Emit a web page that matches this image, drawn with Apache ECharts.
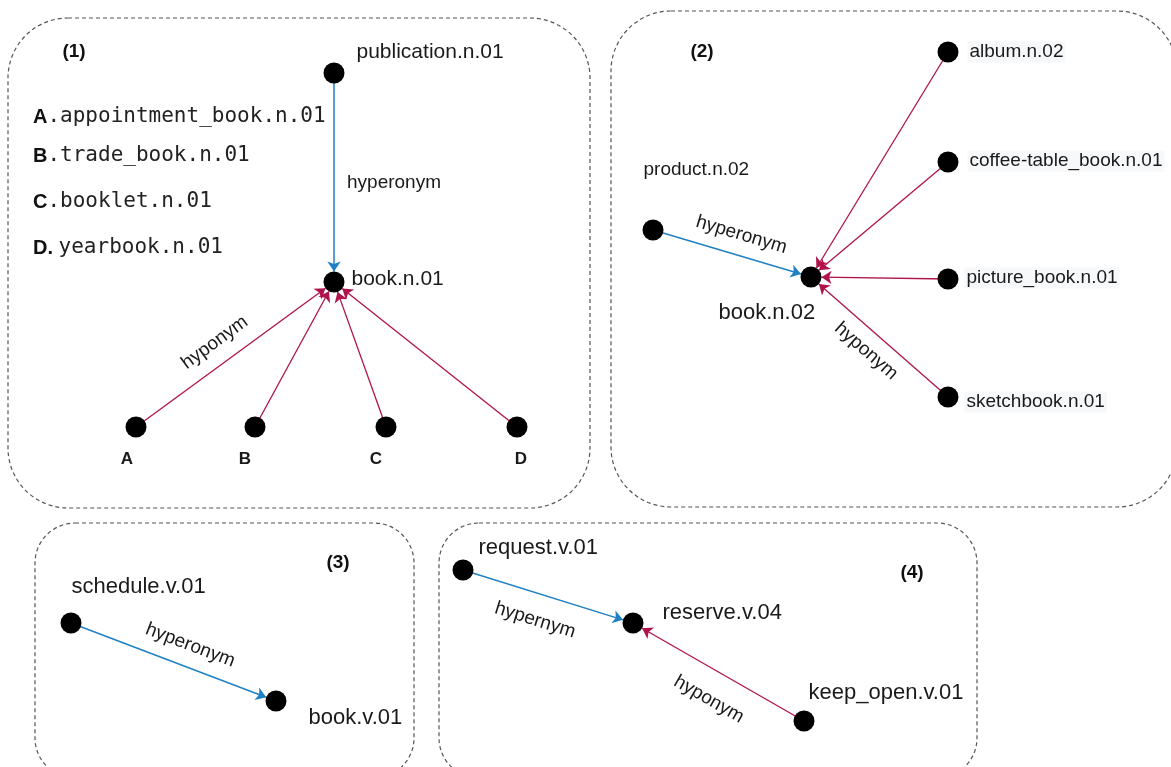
<!DOCTYPE html>
<html>
<head>
<meta charset="utf-8">
<title>book senses in WordNet</title>
<script src="https://cdn.jsdelivr.net/npm/echarts@6/dist/echarts.min.js"></script>
<style>
html, body { margin: 0; padding: 0; background: #fff; }
#chart { width: 1171px; height: 767px; }
</style>
</head>
<body>
<div id="chart"></div>
<script>
// synsets and where they sit in the picture (x right, y down)
const synsets = [
  'publication.n.01', 'book.n.01', 'A', 'B', 'C', 'D',
  'album.n.02', 'coffee-table_book.n.01', 'product.n.02', 'book.n.02', 'picture_book.n.01', 'sketchbook.n.01',
  'schedule.v.01', 'book.v.01',
  'request.v.01', 'reserve.v.04', 'keep_open.v.01'
]
const synsetX = [334, 334, 136, 255, 386, 517, 948, 948, 653, 811, 948, 948, 71, 276, 463, 633, 804]
const synsetY = [73, 282, 427, 427, 427, 427, 52, 162, 230, 277, 279, 397, 623, 701, 570, 623, 721]

// relations: source -> target
const relSource = ['publication.n.01', 'A', 'B', 'C', 'D',
  'product.n.02', 'album.n.02', 'coffee-table_book.n.01', 'picture_book.n.01', 'sketchbook.n.01',
  'schedule.v.01', 'request.v.01', 'keep_open.v.01']
const relTarget = ['book.n.01', 'book.n.01', 'book.n.01', 'book.n.01', 'book.n.01',
  'book.n.02', 'book.n.02', 'book.n.02', 'book.n.02', 'book.n.02',
  'book.v.01', 'reserve.v.04', 'reserve.v.04']
const relKind = ['hyper', 'hypo', 'hypo', 'hypo', 'hypo',
  'hyper', 'hypo', 'hypo', 'hypo', 'hypo',
  'hyper', 'hyper', 'hypo']
const relText = ['', 'hyponym', '', '', '',
  'hyperonym', '', '', '', 'hyponym',
  'hyperonym', 'hypernym', 'hyponym']

const panelTitles = ['(1)', '(2)', '(3)', '(4)']
const legendKeys = ['A', 'B', 'C', 'D. ']
const legendNames = ['.appointment_book.n.01', '.trade_book.n.01', '.booklet.n.01', 'yearbook.n.01']

// ---- styling ----
const FONT = 'Liberation Sans'
const BLUE = '#1f80c4'
const RED = '#b0124b'

const smallNames = ['album.n.02', 'coffee-table_book.n.01', 'product.n.02', 'picture_book.n.01', 'sketchbook.n.01']
const midNames = ['publication.n.01', 'book.n.01']
const letterNames = ['A', 'B', 'C', 'D']
const labelOffset = {
  'publication.n.01': [7, -21],
  'book.n.01': [2, -3],
  'A': [-9, 8], 'B': [-10, 8], 'C': [-10, 8], 'D': [4, 8],
  'album.n.02': [4, 0],
  'coffee-table_book.n.01': [4, -1],
  'product.n.02': [-27, -60],
  'book.n.02': [-108, 36],
  'picture_book.n.01': [1, -1],
  'sketchbook.n.01': [1, 5],
  'schedule.v.01': [-15, -36],
  'book.v.01': [17, 17],
  'request.v.01': [0, -22],
  'reserve.v.04': [14, -10],
  'keep_open.v.01': [-11, -28]
}
// edge label placement: [position, gap from line, padding to slide along the line]
const edgeLabelPlace = {
  1: ['insideMiddleTop', 12, [0, 8, 0, 0]],
  5: ['insideMiddleTop', 11, [0, 0, 0, 18]],
  9: ['insideMiddleBottom', 10, [0, 12, 0, 0]],
  10: ['insideMiddleTop', 12, [0, 0, 0, 30]],
  11: ['insideMiddleBottom', 17, 0],
  12: ['insideMiddleBottom', 19, 0]
}

const nodes = synsets.map((name, i) => {
  const isLetter = letterNames.includes(name)
  const isSmall = smallNames.includes(name)
  const isMid = midNames.includes(name)
  return {
    name: name,
    value: [synsetX[i], synsetY[i]],
    label: {
      show: true,
      position: isLetter ? 'bottom' : 'right',
      offset: labelOffset[name],
      fontFamily: FONT,
      fontSize: isLetter ? 17 : (isSmall ? 19 : (isMid ? 21 : 22)),
      fontWeight: isLetter ? 'bold' : 'normal',
      color: '#1a1a1a',
      backgroundColor: isSmall && name !== 'product.n.02' ? '#f6f8f9' : 'transparent',
      padding: isSmall ? [1, 2] : 0
    }
  }
})

const links = relSource.map((s, i) => {
  const place = edgeLabelPlace[i]
  const color = relKind[i] === 'hyper' ? BLUE : RED
  return {
    source: s,
    target: relTarget[i],
    lineStyle: { color: color, width: relKind[i] === 'hyper' ? 1.5 : 1.3, opacity: 1 },
    label: relText[i] ? {
      show: true,
      formatter: relText[i],
      position: place[0],
      distance: place[1],
      padding: place[2],
      fontFamily: FONT,
      fontSize: 19,
      color: '#1a1a1a'
    } : { show: false }
  }
})

// dashed rounded panel frames
const frames = [
  [8, 18, 590, 508, 60],
  [611, 11, 1177, 507, 60],
  [35, 523, 414, 778, 40],
  [439, 523, 977, 778, 40]
]
const titleAt = [[74, 52], [702, 52], [338, 563], [912, 573]]

const graphics = frames.map(f => ({
  type: 'rect',
  shape: { x: f[0], y: f[1], width: f[2] - f[0], height: f[3] - f[1], r: f[4] },
  style: { fill: null, stroke: '#555', lineWidth: 1.2, lineDash: [4, 3] },
  z: 0
}))
panelTitles.forEach((t, i) => {
  graphics.push({
    type: 'text',
    x: titleAt[i][0], y: titleAt[i][1],
    style: {
      text: t, fill: '#111', font: 'bold 19px ' + FONT,
      textAlign: 'center', textVerticalAlign: 'middle'
    }
  })
})
const legendY = [117, 156, 202, 248]
legendKeys.forEach((k, i) => {
  graphics.push({
    type: 'text',
    x: 33, y: legendY[i],
    style: {
      text: '{k|' + k + '}{m|' + legendNames[i] + '}',
      textVerticalAlign: 'middle',
      rich: {
        k: { fontFamily: FONT, fontWeight: 'bold', fontSize: 20, fill: '#111' },
        m: { fontFamily: 'DejaVu Sans Mono', fontSize: 21, fill: '#222' }
      }
    }
  })
})
// label of the vertical edge sits beside it, unrotated
graphics.push({
  type: 'text',
  x: 347, y: 183,
  style: { text: 'hyperonym', font: '19px ' + FONT, fill: '#1a1a1a', textVerticalAlign: 'middle' }
})

const chart = echarts.init(document.getElementById('chart'))
chart.setOption({
  animation: false,
  backgroundColor: '#fff',
  grid: { left: 0, right: 0, top: 0, bottom: 0 },
  xAxis: { type: 'value', min: 0, max: 1171, show: false },
  yAxis: { type: 'value', min: 0, max: 767, inverse: true, show: false },
  graphic: graphics,
  series: [{
    type: 'graph',
    coordinateSystem: 'cartesian2d',
    layout: 'none',
    symbol: 'circle',
    symbolSize: 21,
    itemStyle: { color: '#000' },
    lineStyle: { opacity: 1 },
    edgeSymbol: ['none', 'arrow'],
    edgeSymbolSize: [0, 10],
    data: nodes,
    links: links,
    z: 3
  }]
})
</script>
</body>
</html>
